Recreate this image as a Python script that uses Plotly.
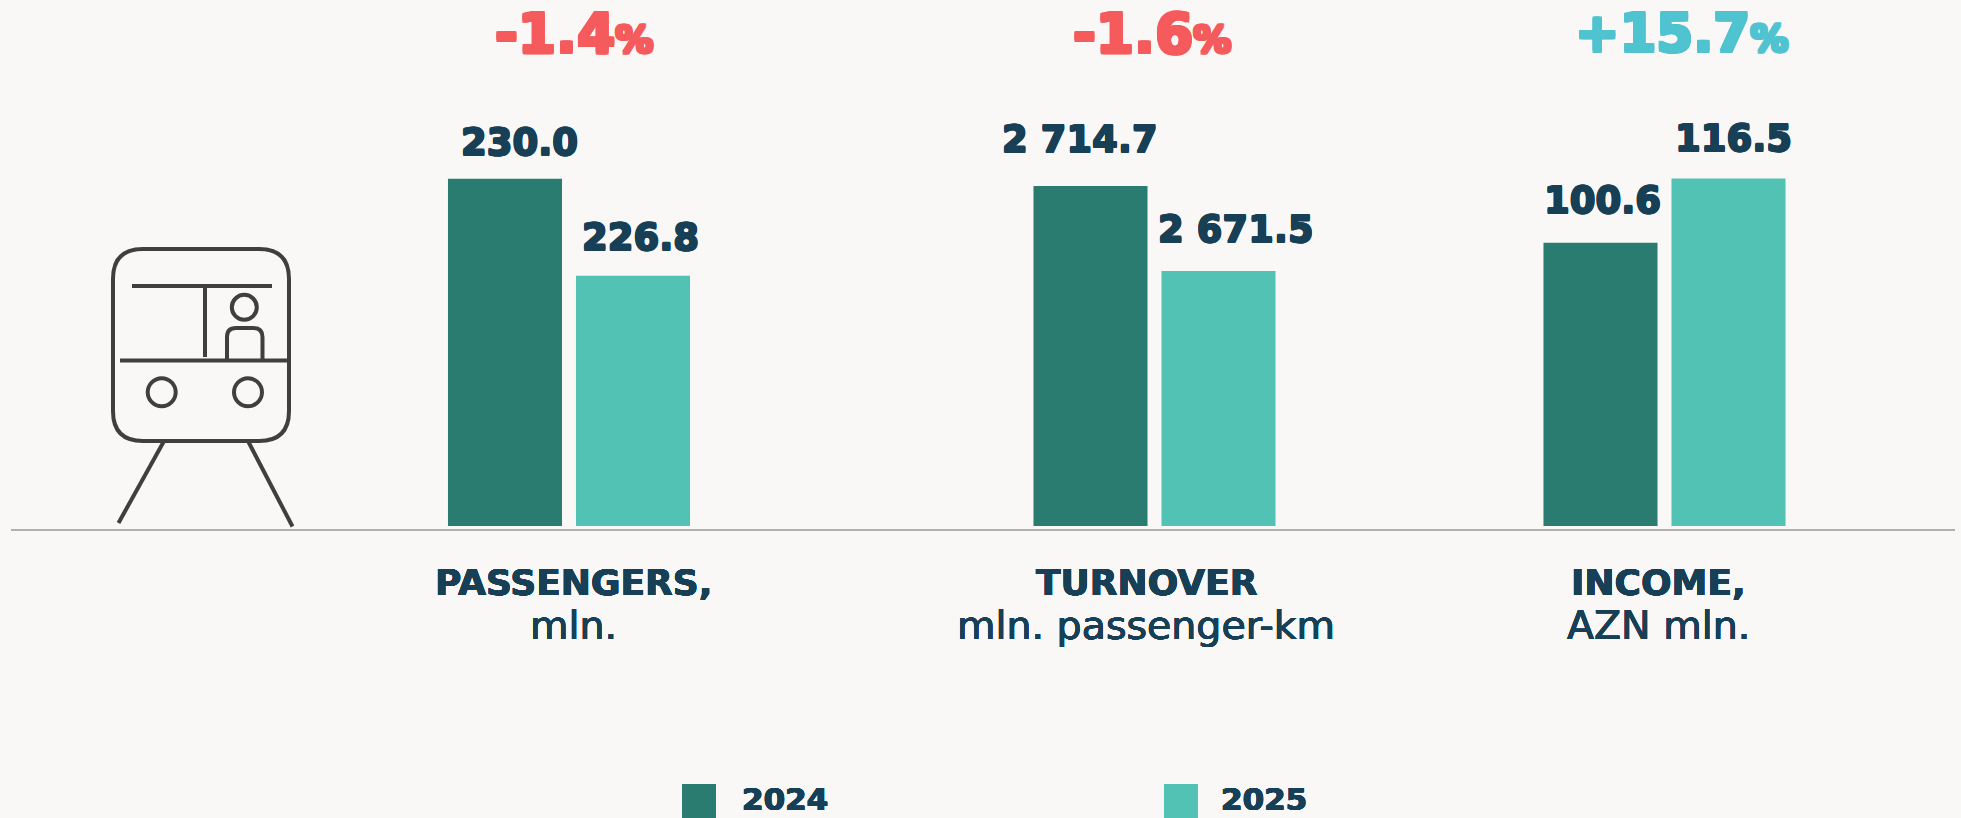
import plotly.graph_objects as go

W, H = 1961, 818
HEAVY = "DejaVu Sans"
INK = "#173f55"
ICON = "#403f3f"
DARK = "#2b7c70"
LIGHT = "#52c2b4"
BG = "#faf8f6"
RED = "#f55a5c"
TEAL = "#4fc3cf"

years = ["2024", "2025"]
values_2024 = [230.0, 2714.7, 100.6]
values_2025 = [226.8, 2671.5, 116.5]
value_labels_2024 = ["230.0", "2 714.7", "100.6"]
value_labels_2025 = ["226.8", "2 671.5", "116.5"]
changes = ["-1.4", "-1.6", "+15.7"]
change_colors = [RED, RED, TEAL]
change_sizes = [55, 55, 53]
cat_titles = ["PASSENGERS,", "TURNOVER", "INCOME,"]
cat_units = ["mln.", "mln. passenger-km", "AZN mln."]

# truncated value axis of every group (each group has its own scale)
y_ranges = [(218.55, 232.6), (2541.9, 2758.4), (30.3, 136.0)]
# layout, in pixels
group_left = [441, 1026.5, 1536.5]
group_w = 256
plot_top, plot_bottom = 100, 526
label_dx = [(14, 7), (-11, 17), (2, 5)]
label_dy = [(36, 38), (46, 41), (42, 40)]
change_x = [574, 1152, 1681]
cat_x = [573, 1146, 1658]


def px(x):
    return x / W


def py(y):
    return 1 - y / H


def fat(color, w):
    return ", ".join(f"{dx}px {dy}px 0 {color}" for dx, dy in
                     ((w, 0), (-w, 0), (0, w), (0, -w), (w, w), (-w, -w), (w, -w), (-w, w)))


fig = go.Figure()
annotations = []
layout_axes = {}
for i in range(3):
    n = "" if i == 0 else str(i + 1)
    fig.add_trace(go.Bar(
        x=years, y=[values_2024[i], values_2025[i]],
        marker=dict(color=[DARK, LIGHT], line_width=0),
        xaxis="x" + n, yaxis="y" + n, showlegend=False,
        hovertemplate="%{x}: %{y}<extra></extra>",
    ))
    layout_axes["xaxis" + n] = dict(
        domain=[px(group_left[i]), px(group_left[i] + group_w)],
        type="category", range=[-0.5, 1.5], visible=False, anchor="y" + n)
    layout_axes["yaxis" + n] = dict(
        domain=[py(plot_bottom), py(plot_top)],
        range=list(y_ranges[i]), visible=False, anchor="x" + n)
    for j, (val, lab) in enumerate(((values_2024[i], value_labels_2024[i]),
                                    (values_2025[i], value_labels_2025[i]))):
        annotations.append(dict(
            xref="x" + n, yref="y" + n, x=j, y=val, text=lab,
            xshift=label_dx[i][j], yshift=label_dy[i][j],
            xanchor="center", yanchor="middle", showarrow=False,
            font=dict(family=HEAVY, size=37, color=INK, weight=700, shadow=fat(INK, 0.7))))
    annotations.append(dict(
        xref="paper", yref="paper", x=px(change_x[i]), y=py(33),
        text=f'{changes[i]}<span style="font-size:38px">%</span>',
        xanchor="center", yanchor="middle", showarrow=False,
        font=dict(family=HEAVY, size=change_sizes[i], color=change_colors[i], weight=700,
                  shadow=fat(change_colors[i], 1.5))))
    annotations.append(dict(
        xref="paper", yref="paper", x=px(cat_x[i]), y=py(582), text=cat_titles[i],
        xanchor="center", yanchor="middle", showarrow=False,
        font=dict(family=HEAVY, size=36, color=INK, weight=700, shadow=fat(INK, 0.3))))
    annotations.append(dict(
        xref="paper", yref="paper", x=px(cat_x[i]), y=py(625), text=cat_units[i],
        xanchor="center", yanchor="middle", showarrow=False,
        font=dict(family=HEAVY, size=39.5, color=INK, weight=400, shadow=fat(INK, 0.25))))

# legend
for yr, tx in ((years[0], 740), (years[1], 1219)):
    annotations.append(dict(
        xref="paper", yref="paper", x=px(tx), y=py(799), text=yr,
        xanchor="left", yanchor="middle", showarrow=False,
        font=dict(family=HEAVY, size=31, color=INK, weight=700, shadow=fat(INK, 0.4))))

shapes = [
    dict(type="rect", xref="paper", yref="paper", x0=px(682), x1=px(716),
         y0=py(784), y1=py(830), fillcolor=DARK, line_width=0),
    dict(type="rect", xref="paper", yref="paper", x0=px(1164), x1=px(1198),
         y0=py(784), y1=py(830), fillcolor=LIGHT, line_width=0),
    dict(type="line", xref="paper", yref="paper", x0=px(11), x1=px(1955),
         y0=py(530), y1=py(530), line=dict(color="#b0b0b0", width=2)),
]


def seg(x0, y0, x1, y1):
    return dict(type="line", xref="paper", yref="paper", x0=px(x0), y0=py(y0),
                x1=px(x1), y1=py(y1), line=dict(color=ICON, width=4))


def circ(cx, cy, r):
    return dict(type="circle", xref="paper", yref="paper",
                x0=px(cx - r), x1=px(cx + r), y0=py(cy - r), y1=py(cy + r),
                line=dict(color=ICON, width=4))


def path(points):
    d = " ".join(f"{c}{px(x):.5f},{py(y):.5f}" if c != "Q" else
                 f"Q{px(x[0]):.5f},{py(x[1]):.5f} {px(y[0]):.5f},{py(y[1]):.5f}"
                 for c, x, y in points)
    return dict(type="path", xref="paper", yref="paper", path=d,
                line=dict(color=ICON, width=4))


L, R, T, B, r = 113, 289, 249, 441, 30
shapes += [
    path([("M", L + r, T), ("L", R - r, T), ("Q", (R, T), (R, T + r)),
          ("L", R, B - r), ("Q", (R, B), (R - r, B)), ("L", L + r, B),
          ("Q", (L, B), (L, B - r)), ("L", L, T + r), ("Q", (L, T), (L + r, T))]),
    seg(132, 286, 272, 286),
    seg(205, 286, 205, 357),
    seg(120, 360.5, 288, 360.5),
    circ(244.3, 307.3, 12.5),
    path([("M", 227, 360), ("L", 227, 337), ("Q", (227, 328), (236, 328)),
          ("L", 253, 328), ("Q", (262.5, 328), (262.5, 337)), ("L", 262.5, 360)]),
    circ(161.7, 392.3, 14),
    circ(248, 392.3, 14),
    seg(163.5, 442, 118.5, 523),
    seg(248.5, 442, 292.5, 526.5),
]

fig.update_layout(
    width=W, height=H, margin=dict(l=0, r=0, t=0, b=0, pad=0),
    paper_bgcolor=BG, plot_bgcolor=BG, bargap=0.109,
    showlegend=False, annotations=annotations, shapes=shapes,
    **layout_axes,
)
fig.write_html("out.html", config={"displayModeBar": False},
               post_script="document.body.style.margin='0';document.body.style.overflow='hidden';document.body.style.background='%s';" % BG)
